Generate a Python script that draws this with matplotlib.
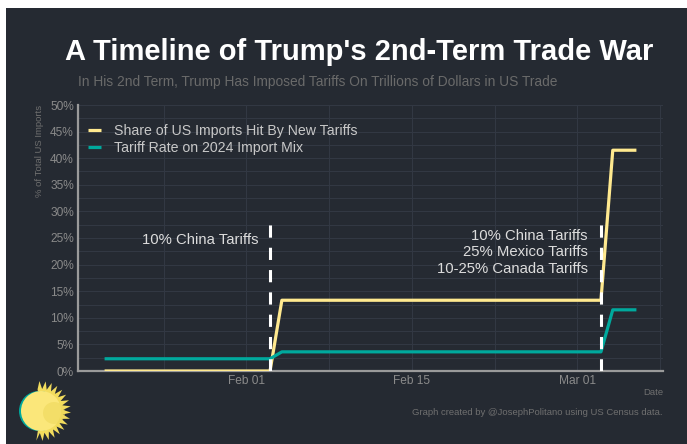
import numpy as np
import matplotlib
matplotlib.use("Agg")
import matplotlib.pyplot as plt
import matplotlib.dates as mdates
from matplotlib.patches import Circle, Polygon, Rectangle

# ---- data ----
dates = np.array(["2025-01-20", "2025-02-03", "2025-02-04",
                  "2025-03-03", "2025-03-04", "2025-03-06"], dtype="datetime64[D]")
share_hit = [0.0, 0.0, 13.3, 13.3, 41.5, 41.5]
tariff_rate = [2.3, 2.3, 3.6, 3.6, 11.5, 11.5]
event_dates = np.array(["2025-02-03", "2025-03-03"], dtype="datetime64[D]")
event_height = 28
event_labels = ["10% China Tariffs",
                "10% China Tariffs\n25% Mexico Tariffs\n10-25% Canada Tariffs"]
event_label_y = [24.6, 22.3]
series_names = ["Share of US Imports Hit By New Tariffs", "Tariff Rate on 2024 Import Mix"]
x_ticks = np.array(["2025-02-01", "2025-02-15", "2025-03-01"], dtype="datetime64[D]")
x_tick_labels = ["Feb 01", "Feb 15", "Mar 01"]
x_minor = np.array(["2025-01-25", "2025-02-08", "2025-02-22", "2025-03-08"], dtype="datetime64[D]")


def to_num(arr):
    return mdates.date2num(arr.astype("datetime64[ms]").astype(object))


BG = "#252A32"
YEL = "#FFE98F"
TEAL = "#00A99D"
GRID = "#323843"
TXT = "#8a8a8a"

plt.rcParams["font.family"] = ["Liberation Sans", "DejaVu Sans"]

fig = plt.figure(figsize=(6.87, 4.44), dpi=100, facecolor="white")
fig.add_artist(Rectangle((6 / 687, 0), 1, 1 - 8 / 444, transform=fig.transFigure,
                         facecolor=BG, edgecolor="none", zorder=0))

ax = fig.add_axes([78 / 687, 73 / 444, (663 - 78) / 687, (371 - 105) / 444])
ax.set_facecolor(BG)

xd = to_num(dates)
ax.plot(xd, share_hit, color=YEL, lw=2.3, solid_joinstyle="round",
        solid_capstyle="butt", label=series_names[0], zorder=4)
ax.plot(xd, tariff_rate, color=TEAL, lw=2.3, solid_joinstyle="round",
        solid_capstyle="butt", label=series_names[1], zorder=4)

ev = to_num(event_dates)
for d in ev:
    ax.plot([d, d], [0, event_height], color="white", lw=2.2,
            linestyle=(0, (4, 3.3)), zorder=5)

ax.text(ev[0] - 1.0, event_label_y[0], event_labels[0], color="#dcdcdc",
        fontsize=10.7, ha="right", va="center", zorder=6)
ax.text(ev[1] - 1.1, event_label_y[1], event_labels[1], color="#dcdcdc",
        fontsize=10.7, ha="right", va="center", linespacing=1.2, zorder=6)

ax.set_xlim(xd[0] - 2.25, xd[-1] + 2.25)
ax.set_ylim(0, 50)

ax.set_xticks(to_num(x_ticks))
ax.set_xticklabels(x_tick_labels)
ax.set_xticks(to_num(x_minor), minor=True)
ax.set_yticks(np.arange(0, 51, 5))
ax.set_yticklabels([f"{v}%" for v in range(0, 51, 5)])
ax.set_yticks(np.arange(2.5, 50, 5), minor=True)

ax.grid(True, which="both", color=GRID, lw=0.8, zorder=0)
ax.set_axisbelow(True)
ax.tick_params(which="both", length=0, colors=TXT, labelsize=8.6, pad=3)
for s in ["top", "right"]:
    ax.spines[s].set_visible(False)
for s in ["left", "bottom"]:
    ax.spines[s].set_color("#9a9a9a")
    ax.spines[s].set_linewidth(1.6)

leg = ax.legend(loc="upper left", bbox_to_anchor=(10 / 585, 0.929), frameon=False,
                fontsize=10.2, handlelength=0.9, handletextpad=0.9,
                labelspacing=0.25, borderaxespad=0.0, borderpad=0.0,
                labelcolor="#c8c8c8")

fig.text(40 / 687, 1 - 105 / 444, "% of Total US Imports", rotation=90, color="#6f6f6f",
         fontsize=6.8, ha="center", va="top")
fig.text(663 / 687, 1 - 392 / 444, "Date", color="#6f6f6f", fontsize=6.8, ha="right", va="center")
fig.text(663 / 687, 1 - 412 / 444, "Graph created by @JosephPolitano using US Census data.",
         color="#6f6f6f", fontsize=6.8, ha="right", va="center")

fig.text(65 / 687, 1 - 52 / 444, "A Timeline of Trump's 2nd-Term Trade War", color="white",
         fontsize=21, fontweight="bold", ha="left", va="center")
fig.text(78 / 687, 1 - 82 / 444,
         "In His 2nd Term, Trump Has Imposed Tariffs On Trillions of Dollars in US Trade",
         color="#6a6a6a", fontsize=9.9, ha="left", va="center")

# sun logo
lax = fig.add_axes([8 / 687, 0, 80 / 687, 80 / 444])
lax.set_xlim(0, 80)
lax.set_ylim(0, 80)
lax.set_aspect("equal")
lax.axis("off")
cx, cy = 33, 33
ang = np.linspace(-np.pi * 0.55, np.pi * 0.55, 34)
pts = []
for i, a in enumerate(ang):
    r = 30 if i % 2 == 0 else 22
    pts.append((cx + r * np.cos(a), cy + r * np.sin(a)))
pts.append((cx, cy))
lax.add_patch(Polygon(pts, closed=True, facecolor="#F2DC5D", edgecolor="none"))
lax.add_patch(Circle((cx - 2, cy), 20, facecolor=TEAL, edgecolor="none"))
lax.add_patch(Circle((cx, cy), 20, facecolor="#FBE77A", edgecolor="none"))
lax.add_patch(Circle((cx + 13, cy - 2), 11, facecolor="#EED85C", edgecolor="none", alpha=0.6))

fig.savefig("out.png", dpi=100, facecolor=fig.get_facecolor())
